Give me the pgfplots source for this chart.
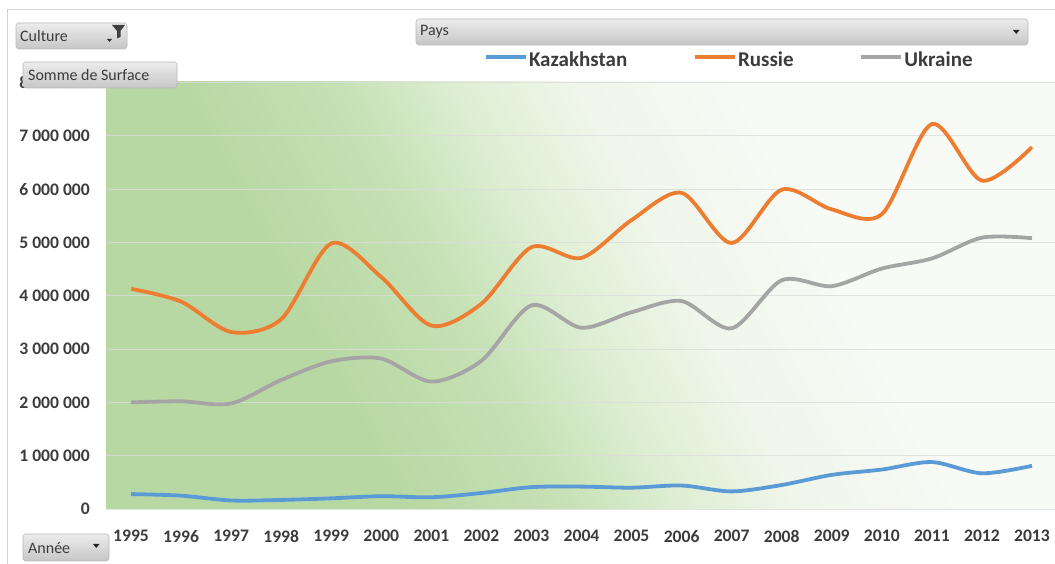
\documentclass[border=0pt]{standalone}
\usepackage{fontspec}
\setmainfont{Carlito}
\usepackage{pgfplots}
\usepackage{pgfplotstable}
\pgfplotsset{compat=1.18}
\definecolor{kaz}{RGB}{91,155,213}
\definecolor{rus}{RGB}{237,125,49}
\definecolor{ukr}{RGB}{165,165,165}
\definecolor{bgA}{RGB}{184,216,163}
\definecolor{bgA2}{RGB}{198,225,181}
\definecolor{bgB}{RGB}{221,238,210}
\definecolor{bgC}{RGB}{240,246,235}
\definecolor{bgD}{RGB}{248,250,246}
\definecolor{tickgray}{RGB}{60,60,60}
\definecolor{btntop}{RGB}{236,236,236}
\definecolor{btnbot}{RGB}{198,198,198}
\definecolor{btnline}{RGB}{185,185,185}
\definecolor{framegray}{RGB}{212,212,212}
\definecolor{gridgray}{RGB}{220,220,220}
\pgfdeclarehorizontalshading{plotbg}{100bp}{color(0bp)=(bgA); color(39.71bp)=(bgA); color(43.82bp)=(bgA2); color(46.76bp)=(bgB); color(50bp)=(bgC); color(54.41bp)=(bgD); color(100bp)=(bgD)}

\pgfplotstableread{
x y
0 280000
1 250000
2 160000
3 170000
4 200000
5 240000
6 220000
7 300000
8 410000
9 420000
10 400000
11 440000
12 330000
13 450000
14 640000
15 740000
16 880000
17 670000
18 810000
}\kaz
\pgfplotstableread{
x y
0 4130000
1 3890000
2 3320000
3 3560000
4 4980000
5 4350000
6 3440000
7 3850000
8 4910000
9 4710000
10 5420000
11 5930000
12 4990000
13 5990000
14 5620000
15 5530000
16 7220000
17 6160000
18 6790000
}\rus
\pgfplotstableread{
x y
0 2000000
1 2020000
2 1980000
3 2420000
4 2770000
5 2820000
6 2390000
7 2780000
8 3820000
9 3400000
10 3690000
11 3900000
12 3390000
13 4290000
14 4180000
15 4510000
16 4700000
17 5090000
18 5080000
}\ukr

\begin{document}
\begin{tikzpicture}
\useasboundingbox (0pt,0pt) rectangle (1055pt,564pt);
\begin{scope}[x=1pt,y=1pt]
\fill[white] (0,0) rectangle (1055,564);
\begin{scope}
\clip (106,55) rectangle (1057,482);
\begin{scope}[transform canvas={rotate around={28:(520pt,268pt)}}]
\path[shading=plotbg] (-180,-800) rectangle (1520,1300);
\end{scope}
\end{scope}
\draw[framegray, line width=0.8pt] (7,-5) -- (7,555) -- (1060,555);
\end{scope}

\begin{axis}[
  at={(106pt,55pt)}, anchor=south west,
  scale only axis, width=951pt, height=426.5pt,
  xmin=-0.5, xmax=18.5, ymin=0, ymax=8000000,
  scaled y ticks=false,
  xtick={0,...,18},
  xticklabels={1995,1996,1997,1998,1999,2000,2001,2002,2003,2004,2005,2006,2007,2008,2009,2010,2011,2012,2013},
  ytick={0,1000000,2000000,3000000,4000000,5000000,6000000,7000000,8000000},
  yticklabels={0,1 000 000,2 000 000,3 000 000,4 000 000,5 000 000,6 000 000,7 000 000,8 000 000},
  axis line style={draw=none},
  tick style={draw=none},
  ymajorgrids,
  grid style={color=gridgray, line width=0.8pt, opacity=0.8},
  ticklabel style={font=\fontsize{17.6}{20}\selectfont\bfseries, text=tickgray},
  yticklabel style={inner sep=0pt, anchor=east, xshift=-16pt},
  xticklabel style={inner sep=0pt, anchor=north, yshift=-21pt},
  legend columns=3,
  legend style={at={(0.3938,1.0528)}, anchor=west, draw=none, fill=none,
    font=\fontsize{21}{24}\selectfont\bfseries, text=tickgray,
    nodes={inner sep=1.5pt},
    /tikz/every even column/.append style={column sep=64pt}},
  legend image code/.code={\draw[#1, line width=3.8pt] (0pt,0.3em) -- (40pt,0.3em);},
]
\addplot[kaz, line width=3.8pt, smooth, tension=0.5] table[x=x,y=y] {\kaz};
\addlegendentry{Kazakhstan}
\addplot[rus, line width=3.8pt, smooth, tension=0.5] table[x=x,y=y] {\rus};
\addlegendentry{Russie}
\addplot[ukr, line width=3.8pt, smooth, tension=0.5] table[x=x,y=y] {\ukr};
\addlegendentry{Ukraine}
\end{axis}

\begin{scope}[x=1pt,y=1pt, btn/.style={rounded corners=3pt, draw=btnline, line width=0.6pt, top color=btntop, bottom color=btnbot},
  lbl/.style={anchor=west, inner sep=0pt, text=tickgray, font=\fontsize{16}{18}\selectfont}]
\path[btn] (16,541) rectangle (127,515);
\node[lbl] at (20,528) {Culture};
\fill[black!75] (112,539) -- (125,539) -- (120.5,533) -- (120.5,527) -- (117,525.5) -- (117,533) -- cycle;
\fill[black!80] (107,525) -- (112,525) -- (109.5,522) -- cycle;
\path[btn] (23,502) rectangle (177,476);
\node[lbl] at (28,489) {Somme de Surface};
\path[btn] (416,545) rectangle (1028,519);
\node[lbl] at (420,532) {Pays};
\fill[black!85] (1013,534) -- (1019.5,534) -- (1016.25,530) -- cycle;
\path[btn] (23,30) rectangle (109,3);
\node[lbl] at (28,16) {Année};
\fill[black!85] (93,20) -- (99.5,20) -- (96.25,16) -- cycle;
\end{scope}
\end{tikzpicture}
\end{document}
